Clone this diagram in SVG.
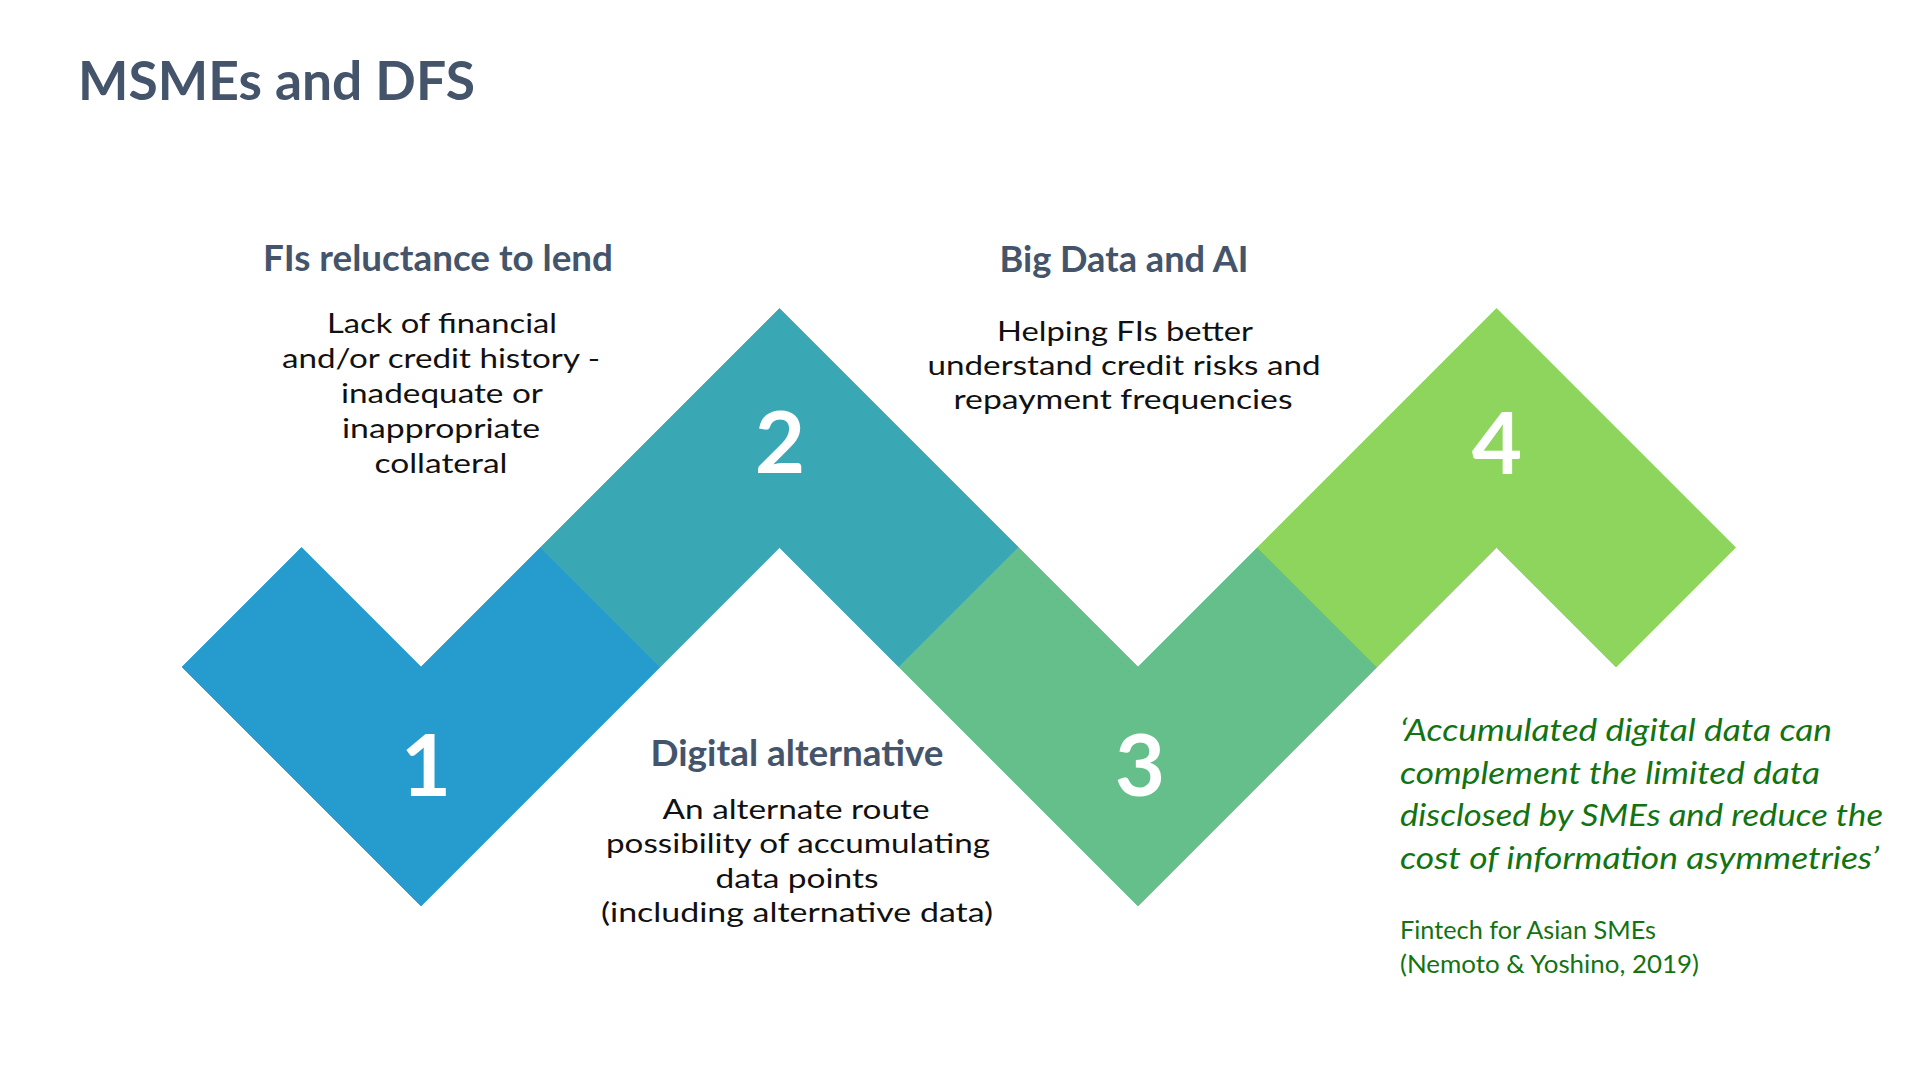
<svg xmlns="http://www.w3.org/2000/svg" width="1920" height="1080" viewBox="0 0 1920 1080">
  <style>
    .title { font-family: Lato, "Liberation Sans", sans-serif; font-weight: 700; font-size: 53px; fill: #44546A; }
    .head { font-family: Lato, "Liberation Sans", sans-serif; font-weight: 700; font-size: 36px; fill: #44546A; text-anchor: middle; }
    .body { font-family: Lato, "Liberation Sans", sans-serif; font-weight: 400; font-size: 26px; fill: #111111; text-anchor: middle; }
    .num { font-family: Lato, "Liberation Sans", sans-serif; font-weight: 700; font-size: 87px; fill: #FFFFFF; text-anchor: middle; }
    .quote { font-family: Lato, "Liberation Sans", sans-serif; font-style: italic; font-size: 31px; fill: #137313; }
    .cite { font-family: Lato, "Liberation Sans", sans-serif; font-size: 24.5px; fill: #137313; }
    .s1 { fill: #269CCE; stroke: #269CCE; stroke-width: 0.8; }
    .s2 { fill: #3AA7B5; stroke: #3AA7B5; stroke-width: 0.8; }
    .s3 { fill: #64BF8B; stroke: #64BF8B; stroke-width: 0.8; }
    .s4 { fill: #8ED55E; stroke: #8ED55E; stroke-width: 0.8; }
  </style>
  <rect x="0" y="0" width="1920" height="1080" fill="#FFFFFF"/>

  <text class="title" x="78" y="100" textLength="397" lengthAdjust="spacingAndGlyphs">MSMEs and DFS</text>

  <g id="step1">
    <polygon class="s1" points="182,667 301.5,547.5 421,667 540.5,547.5 660,667 421,906"/>
    <text class="num" x="426" y="796">1</text>
  </g>
  <g id="step2">
    <polygon class="s2" points="540.5,547.5 779.5,308.5 1018.5,547.5 899,667 779.5,547.5 660,667"/>
    <text class="num" x="780" y="473">2</text>
  </g>
  <g id="step3">
    <polygon class="s3" points="899,667 1018.5,547.5 1138,667 1257.5,547.5 1377,667 1138,906"/>
    <text class="num" x="1140" y="796">3</text>
  </g>
  <g id="step4">
    <polygon class="s4" points="1257.5,547.5 1496.5,308.5 1735.5,547.5 1616,667 1496.5,547.5 1377,667"/>
    <text class="num" x="1497" y="474">4</text>
  </g>

  <g id="text1">
    <text class="head" x="438" y="271" textLength="350" lengthAdjust="spacingAndGlyphs">FIs reluctance to lend</text>
    <text class="body" x="442" y="333" textLength="230" lengthAdjust="spacingAndGlyphs">Lack of financial</text>
    <text class="body" x="441" y="368" textLength="318" lengthAdjust="spacingAndGlyphs">and/or credit history -</text>
    <text class="body" x="442" y="403" textLength="202" lengthAdjust="spacingAndGlyphs">inadequate or</text>
    <text class="body" x="441" y="438" textLength="198" lengthAdjust="spacingAndGlyphs">inappropriate</text>
    <text class="body" x="441" y="473" textLength="133" lengthAdjust="spacingAndGlyphs">collateral</text>
  </g>

  <g id="text2">
    <text class="head" x="1124" y="272" textLength="249" lengthAdjust="spacingAndGlyphs">Big Data and AI</text>
    <text class="body" x="1125" y="341" textLength="256" lengthAdjust="spacingAndGlyphs">Helping FIs better</text>
    <text class="body" x="1124" y="375" textLength="393" lengthAdjust="spacingAndGlyphs">understand credit risks and</text>
    <text class="body" x="1123" y="409" textLength="339" lengthAdjust="spacingAndGlyphs">repayment frequencies</text>
  </g>

  <g id="text3">
    <text class="head" x="797" y="766" textLength="293" lengthAdjust="spacingAndGlyphs">Digital alternative</text>
    <text class="body" x="796" y="819" textLength="267" lengthAdjust="spacingAndGlyphs">An alternate route</text>
    <text class="body" x="798" y="853" textLength="384" lengthAdjust="spacingAndGlyphs">possibility of accumulating</text>
    <text class="body" x="797" y="888" textLength="163" lengthAdjust="spacingAndGlyphs">data points</text>
    <text class="body" x="797" y="922" textLength="392" lengthAdjust="spacingAndGlyphs">(including alternative data)</text>
  </g>

  <g id="quote">
    <text class="quote" x="1400" y="741" textLength="432" lengthAdjust="spacingAndGlyphs">‘Accumulated digital data can</text>
    <text class="quote" x="1400" y="784" textLength="420" lengthAdjust="spacingAndGlyphs">complement the limited data</text>
    <text class="quote" x="1400" y="826" textLength="483" lengthAdjust="spacingAndGlyphs">disclosed by SMEs and reduce the</text>
    <text class="quote" x="1400" y="869" textLength="479" lengthAdjust="spacingAndGlyphs">cost of information asymmetries’</text>
    <text class="cite" x="1400" y="939" textLength="256" lengthAdjust="spacingAndGlyphs">Fintech for Asian SMEs</text>
    <text class="cite" x="1400" y="973" textLength="299" lengthAdjust="spacingAndGlyphs">(Nemoto &amp; Yoshino, 2019)</text>
  </g>
</svg>
